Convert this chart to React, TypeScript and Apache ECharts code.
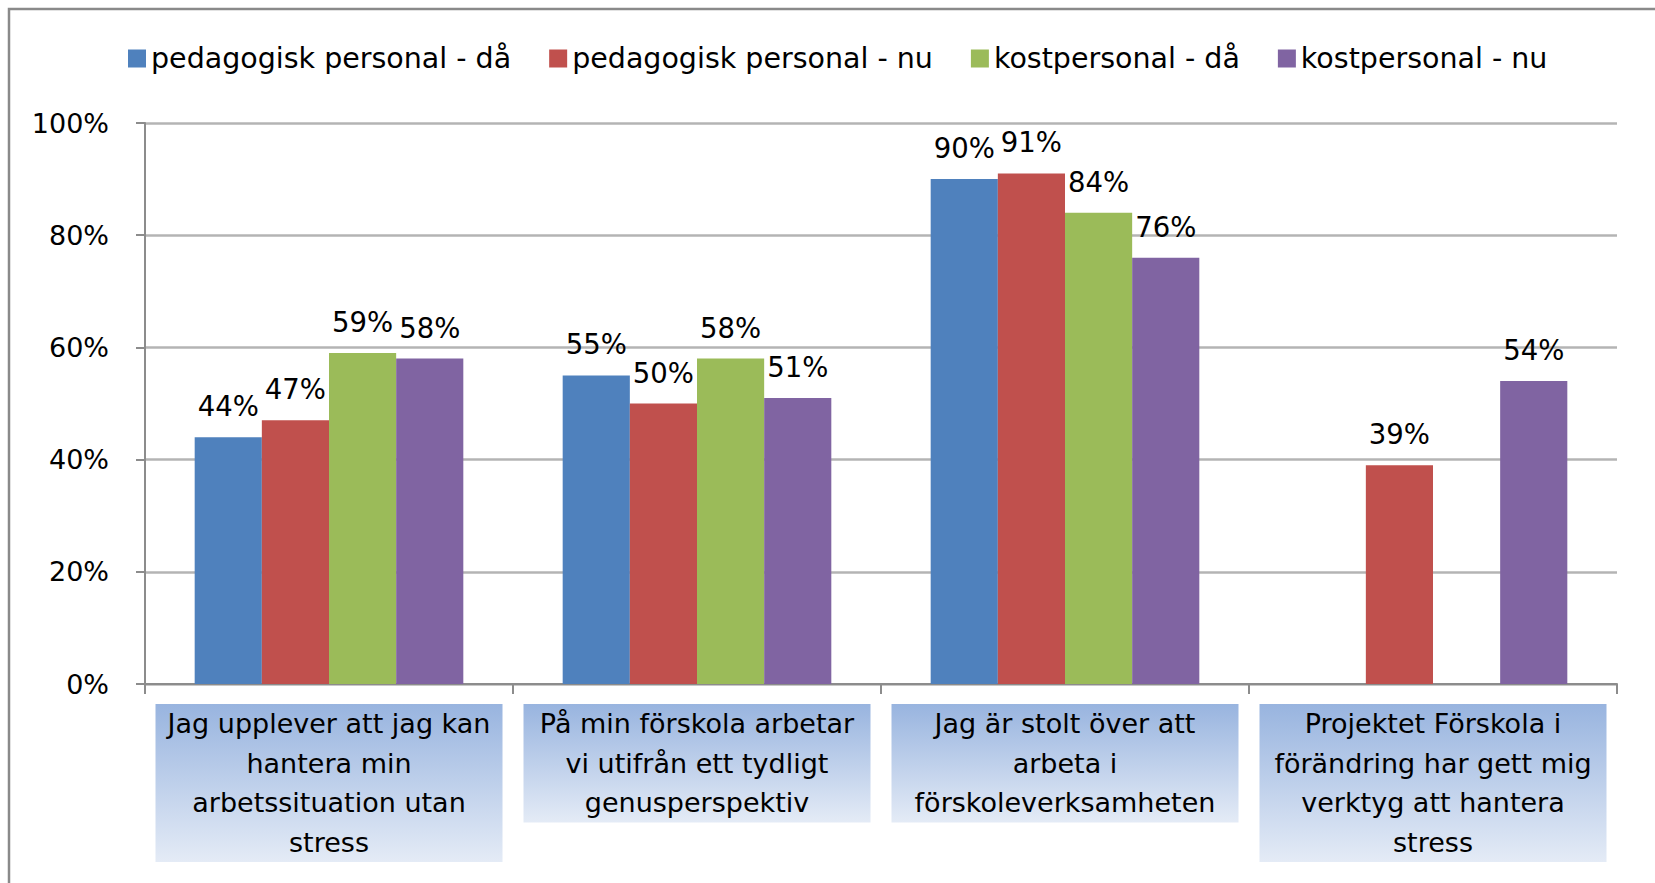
import React, { useEffect, useRef } from "react";
import * as echarts from "echarts";

const categories = [
  "Jag upplever att jag kan\nhantera min\narbetssituation utan\nstress",
  "På min förskola arbetar\nvi utifrån ett tydligt\ngenusperspektiv",
  "Jag är stolt över att\narbeta i\nförskoleverksamheten",
  "Projektet Förskola i\nförändring har gett mig\nverktyg att hantera\nstress",
];
const seriesNames = [
  "pedagogisk personal - då",
  "pedagogisk personal - nu",
  "kostpersonal - då",
  "kostpersonal - nu",
];
const pedagogiskDa = [44, 55, 90, null];
const pedagogiskNu = [47, 50, 91, 39];
const kostDa = [59, 58, 84, null];
const kostNu = [58, 51, 76, 54];
const colors = ["#4F81BD", "#C0504D", "#9BBB59", "#8064A2"];

const FONT = "DejaVu Sans";

export default function App() {
  const ref = useRef<HTMLDivElement>(null);
  useEffect(() => {
    if (!ref.current) return;
    const chart = echarts.init(ref.current, null, { renderer: "svg" });
    const values = [pedagogiskDa, pedagogiskNu, kostDa, kostNu];
    chart.setOption({
      animation: false,
      backgroundColor: "#ffffff",
      color: colors,
      textStyle: { fontFamily: FONT },
      graphic: [
        {
          type: "rect",
          shape: { x: 9, y: 9, width: 1800, height: 1000 },
          style: { fill: "none", stroke: "#8a8a8a", lineWidth: 2.5 },
          silent: true,
        },
      ],
      legend: {
        top: 39,
        left: 123,
        itemWidth: 18,
        itemHeight: 18,
        itemGap: 38,
        icon: "rect",
        textStyle: { fontFamily: FONT, fontSize: 28.5, color: "#000" },
        data: seriesNames,
      },
      grid: { left: 145, right: 38, top: 123, bottom: 199, containLabel: false },
      xAxis: {
        type: "category",
        data: categories,
        axisLine: { lineStyle: { color: "#8c8c8c", width: 2 } },
        axisTick: { show: true, length: 10, lineStyle: { color: "#8c8c8c", width: 2 } },
        axisLabel: {
          interval: 0,
          margin: 20,
          fontFamily: FONT,
          fontSize: 27,
          lineHeight: 39.5,
          color: "#000",
          width: 347,
          align: "center",
          overflow: "none",
          backgroundColor: new echarts.graphic.LinearGradient(0, 0, 0, 1, [
            { offset: 0, color: "#98B4DF" },
            { offset: 1, color: "#E4EBF6" },
          ]),
        },
      },
      yAxis: {
        type: "value",
        min: 0,
        max: 100,
        interval: 20,
        axisLine: { show: true, lineStyle: { color: "#8c8c8c", width: 2 } },
        axisTick: { show: true, length: 9, lineStyle: { color: "#8c8c8c", width: 2 } },
        splitLine: { lineStyle: { color: "#b4b4b4", width: 2.5 } },
        axisLabel: {
          formatter: "{value}%",
          margin: 36,
          fontFamily: FONT,
          fontSize: 27,
          color: "#000",
        },
      },
      series: seriesNames.map((name, i) => ({
        name,
        type: "bar",
        data: values[i],
        barGap: "0%",
        barCategoryGap: "27%",
        itemStyle: { color: colors[i] },
        label: {
          show: true,
          position: "top",
          distance: 17,
          formatter: "{c}%",
          fontFamily: FONT,
          fontSize: 27.5,
          color: "#000",
        },
      })),
    });
    return () => chart.dispose();
  }, []);
  return (
    <div
      ref={ref}
      style={{ position: "fixed", left: 0, top: 0, width: 1655, height: 883 }}
    />
  );
}
